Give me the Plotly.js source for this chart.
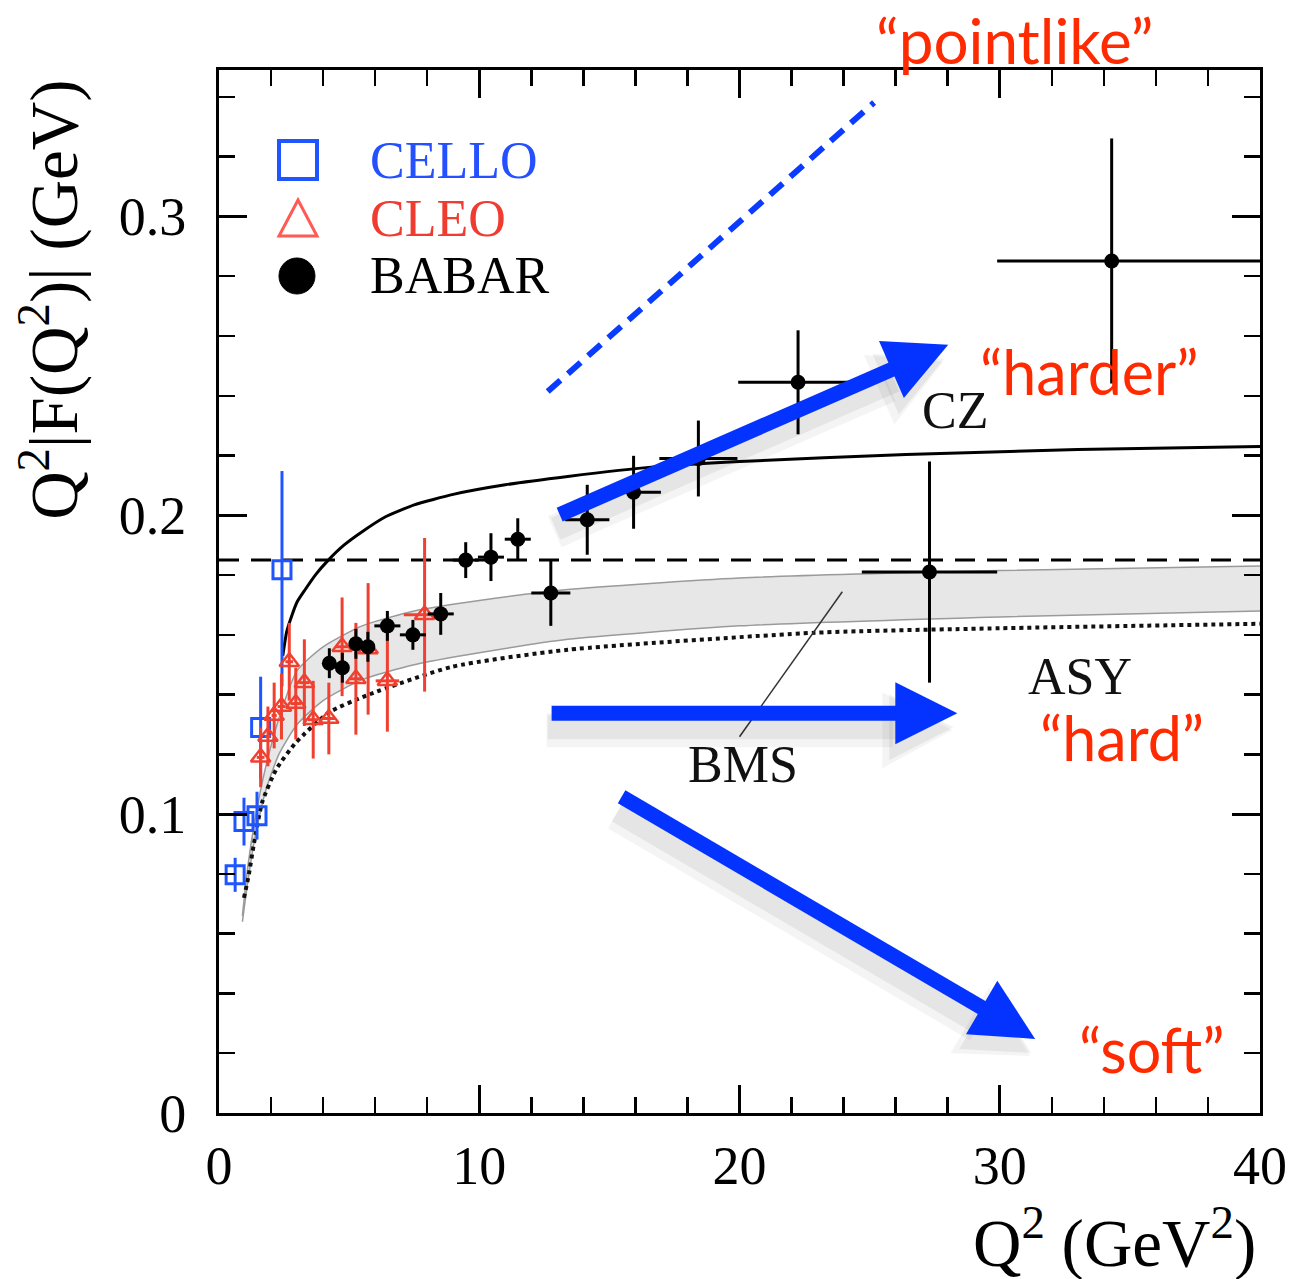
<!DOCTYPE html>
<html><head><meta charset="utf-8">
<script src="https://cdn.plot.ly/plotly-3.0.1.min.js"></script>
<style>html,body{margin:0;padding:0;background:#fff}</style>
</head><body><div id="chart" style="width:1293px;height:1279px"></div>
<script>
// ---- CELLO (open squares) ----
const cello_q2 = [0.62, 0.96, 1.46, 1.60, 2.42];
const cello_f = [0.0797, 0.0975, 0.0995, 0.1290, 0.1818];
const cello_err_plus = [0.0057, 0.0080, 0.0080, 0.0170, 0.0330];
const cello_err_minus = [0.0057, 0.0080, 0.0080, 0.0170, 0.0390];

// ---- CLEO (open triangles) ----
const cleo_q2 = [1.60, 1.88, 2.12, 2.40, 2.70, 2.95, 3.28, 3.62, 4.22, 4.73, 5.26, 5.73, 6.47, 7.90];
const cleo_f = [0.119, 0.126, 0.133, 0.136, 0.151, 0.137, 0.144, 0.1316, 0.132, 0.156, 0.1453, 0.1553, 0.1446, 0.1667];
const cleo_err = [0.010, 0.010, 0.011, 0.011, 0.013, 0.012, 0.0145, 0.013, 0.012, 0.0165, 0.0187, 0.022, 0.017, 0.0257];
const cleo_xerr = [0.15, 0.10, 0.10, 0.15, 0.15, 0.20, 0.20, 0.20, 0.25, 0.25, 0.25, 0.25, 0.45, 0.80];

// ---- BABAR (filled circles) ----
const babar_q2 = [4.24, 4.74, 5.26, 5.72, 6.47, 7.45, 8.52, 9.48, 10.45, 11.48, 12.75, 14.15, 15.93, 18.42, 22.25, 27.30, 34.30];
const babar_f = [0.1505, 0.1490, 0.1570, 0.1560, 0.1630, 0.1600, 0.1670, 0.1850, 0.1860, 0.1920, 0.1740, 0.1985, 0.2077, 0.2190, 0.2445, 0.1810, 0.2851];
const babar_err = [0.005, 0.005, 0.005, 0.005, 0.005, 0.005, 0.007, 0.006, 0.008, 0.007, 0.011, 0.0117, 0.0122, 0.0127, 0.0174, 0.037, 0.041];
const babar_xerr_plus = [0.25, 0.25, 0.25, 0.25, 0.5, 0.5, 0.5, 0.5, 0.5, 0.5, 0.75, 0.85, 1.05, 1.5, 2.3, 2.6, 5.7];
const babar_xerr_minus = [0.25, 0.25, 0.25, 0.25, 0.5, 0.5, 0.5, 0.5, 0.5, 0.5, 0.75, 0.85, 1.05, 1.5, 2.3, 2.6, 4.4];

// ---- theory curves ----
const cz_q2 = [2.45, 2.6, 2.8, 3.0, 3.3, 3.7, 4.2, 4.8, 5.5, 6.4, 7.5, 9.0, 11.0, 13.4, 16.7, 20.0, 26.4, 33.0, 40.0];
const cz_f = [0.153, 0.161, 0.1665, 0.171, 0.175, 0.180, 0.185, 0.190, 0.1945, 0.1995, 0.2035, 0.207, 0.2102, 0.213, 0.2162, 0.218, 0.2203, 0.222, 0.223];

const asy_q2 = [0.96, 1.15, 1.34, 1.66, 2.2, 2.96, 4.22, 5.76, 8.95, 13.4, 22.9, 30.0, 40.0];
const asy_f = [0.072, 0.080, 0.090, 0.104, 0.115, 0.124, 0.134, 0.140, 0.1493, 0.155, 0.1607, 0.1622, 0.1637];

const bms_q2 = [0.9, 1.1, 1.4, 1.8, 2.3, 3.0, 4.0, 5.5, 7.5, 10.0, 13.4, 20.0, 30.0, 40.0];
const bms_upper = [0.066, 0.082, 0.099, 0.116, 0.132, 0.148, 0.156, 0.163, 0.168, 0.1715, 0.1752, 0.179, 0.1815, 0.183];
const bms_lower = [0.064, 0.077, 0.093, 0.108, 0.120, 0.130, 0.138, 0.145, 0.150, 0.154, 0.1585, 0.163, 0.166, 0.168];

const limit_q2 = [0, 40];
const limit_f = [0.185, 0.185];

const pointlike_q2 = [12.63, 25.17];
const pointlike_f = [0.2414, 0.3381];

// BMS label connector
const bms_link_q2 = [20.0, 23.95];
const bms_link_f = [0.1259, 0.1744];

// ---- blue arrows (tail -> tip) ----
const arrow_tail_q2 = [13.09, 12.78, 15.47];
const arrow_tail_f = [0.2002, 0.1338, 0.1058];
const arrow_tip_q2 = [28.02, 28.37, 31.36];
const arrow_tip_f = [0.2571, 0.1338, 0.0248];

// ---- labels ----
const quote_labels = ['“harder”', '“hard”', '“soft”'];
const quote_q2 = [33.44, 34.7, 35.85];
const quote_f = [0.2481, 0.1255, 0.0211];
const top_label = '“pointlike”';
const model_labels = ['CZ', 'ASY', 'BMS'];
const model_q2 = [28.29, 33.09, 20.12];
const model_f = [0.235, 0.146, 0.1165];

const legend_names = ['CELLO', 'CLEO', 'BABAR'];
const legend_colors = ['#2450ff', '#f03c30', '#000000'];

const xticks = [0, 10, 20, 30, 40];
const xticklabels = ['0', '10', '20', '30', '40'];
const yticks = [0, 0.1, 0.2, 0.3];
const yticklabels = ['0', '0.1', '0.2', '0.3'];

const SERIF = '"Liberation Serif", "Times New Roman", serif';
const SANS = 'Lato, "Open Sans", sans-serif';
const BLUE = '#0433ff';

const W = 1293, H = 1279, ML = 219, MR = 33, MT = 70, MB = 166;
const XR = [0, 40], YR = [0, 0.349];
const SX = (W - ML - MR) / (XR[1] - XR[0]);
const SY = (H - MT - MB) / (YR[1] - YR[0]);

const traces = [
  {x: bms_q2, y: bms_lower, mode: 'lines', line: {color: '#9a9a9a', width: 1.5, shape: 'spline', smoothing: 0.6}, showlegend: false, hoverinfo: 'skip'},
  {x: bms_q2, y: bms_upper, mode: 'lines', fill: 'tonexty', fillcolor: '#e7e7e7', line: {color: '#9a9a9a', width: 1.5, shape: 'spline', smoothing: 0.6}, showlegend: false, name: 'BMS'},
  {x: limit_q2, y: limit_f, mode: 'lines', line: {color: '#000', width: 3, dash: '20px,12px'}, showlegend: false, name: 'asymptotic limit'},
  {x: asy_q2, y: asy_f, mode: 'lines', line: {color: '#111', width: 4, dash: 'dot', shape: 'spline', smoothing: 0.6}, showlegend: false, name: 'ASY'},
  {x: cz_q2, y: cz_f, mode: 'lines', line: {color: '#000', width: 3, shape: 'spline', smoothing: 0.5}, showlegend: false, name: 'CZ'},
  {x: bms_link_q2, y: bms_link_f, mode: 'lines', line: {color: '#333', width: 1.5}, showlegend: false, hoverinfo: 'skip'},
  {x: pointlike_q2, y: pointlike_f, mode: 'lines', line: {color: '#0a3cff', width: 6, dash: '17px,10px'}, showlegend: false, name: 'pointlike', cliponaxis: false},
  {x: cello_q2, y: cello_f, mode: 'markers', name: 'CELLO', showlegend: false,
   marker: {symbol: 'square-open', size: 18, color: '#1f55ff', line: {width: 3}},
   error_y: {type: 'data', symmetric: false, array: cello_err_plus, arrayminus: cello_err_minus, color: '#1f55ff', thickness: 3, width: 0}},
  {x: cleo_q2, y: cleo_f, mode: 'markers', name: 'CLEO', showlegend: false,
   marker: {symbol: 'triangle-up-open', size: 17, color: '#f04030', line: {width: 2.5}},
   error_y: {type: 'data', array: cleo_err, color: '#f04030', thickness: 3, width: 0},
   error_x: {type: 'data', array: cleo_xerr, color: '#f04030', thickness: 3, width: 0}},
  {x: babar_q2, y: babar_f, mode: 'markers', name: 'BABAR', showlegend: false,
   marker: {symbol: 'circle', size: 15, color: '#000'},
   error_y: {type: 'data', array: babar_err, color: '#000', thickness: 3, width: 0},
   error_x: {type: 'data', symmetric: false, array: babar_xerr_plus, arrayminus: babar_xerr_minus, color: '#000', thickness: 3, width: 0}}
];

const shapes = [];
// arrows built from tail/tip arrays: shaft line + triangular head (pixel-sized)
function addArrow(i, color, shaftW, L, HW, offPx, offPy) {
  const dxp = (arrow_tip_q2[i] - arrow_tail_q2[i]) * SX;
  const dyp = (arrow_tip_f[i] - arrow_tail_f[i]) * SY;
  const len = Math.hypot(dxp, dyp);
  const ux = dxp / len, uy = dyp / len;
  const ox = offPx / SX, oy = -offPy / SY;
  const tipX = arrow_tip_q2[i] + ox, tipY = arrow_tip_f[i] + oy;
  const endX = tipX - (L * 0.85) * ux / SX, endY = tipY - (L * 0.85) * uy / SY;
  shapes.push({type: 'line', xref: 'x', yref: 'y', x0: arrow_tail_q2[i] + ox, y0: arrow_tail_f[i] + oy, x1: endX, y1: endY,
    line: {color: color, width: shaftW}});
  const bx = -L * ux, by = -L * uy, px = -uy, py = ux;
  const p = (a, b) => a.toFixed(2) + ' ' + b.toFixed(2);
  shapes.push({type: 'path', xref: 'x', yref: 'y', xsizemode: 'pixel', ysizemode: 'pixel', xanchor: tipX, yanchor: tipY,
    path: 'M ' + p(0, 0) + ' L ' + p(bx + HW * px, by + HW * py) + ' L ' + p(bx - HW * px, by - HW * py) + ' Z',
    line: {width: 0}, fillcolor: color});
}
for (let i = 0; i < arrow_tip_q2.length; i++) {
  addArrow(i, 'rgba(0,0,0,0.045)', 34, 70, 38, -5, 17);
  addArrow(i, 'rgba(0,0,0,0.06)', 24, 64, 33, -4, 14);
}
for (let i = 0; i < arrow_tip_q2.length; i++) addArrow(i, BLUE, 15, 62, 31, 0, 0);

shapes.push({type: 'rect', xref: 'paper', yref: 'paper', xsizemode: 'pixel', ysizemode: 'pixel', xanchor: 0.0759, yanchor: 0.9137,
  x0: -19, x1: 19, y0: -19, y1: 19, line: {color: '#1f55ff', width: 4}, fillcolor: 'rgba(0,0,0,0)'});
shapes.push({type: 'path', xref: 'paper', yref: 'paper', xsizemode: 'pixel', ysizemode: 'pixel', xanchor: 0.0759, yanchor: 0.8581,
  path: 'M -19 -18 L 19 -18 L 0 18 Z', line: {color: '#ff5a55', width: 3}, fillcolor: 'rgba(0,0,0,0)'});
shapes.push({type: 'circle', xref: 'paper', yref: 'paper', xsizemode: 'pixel', ysizemode: 'pixel', xanchor: 0.0749, yanchor: 0.8025,
  x0: -18, x1: 18, y0: -18, y1: 18, line: {color: '#000', width: 1}, fillcolor: '#000'});

const annotations = [];
for (let i = 0; i < quote_labels.length; i++) {
  annotations.push({x: quote_q2[i], y: quote_f[i], xref: 'x', yref: 'y', text: quote_labels[i], showarrow: false,
    xanchor: 'center', yanchor: 'middle', font: {family: SANS, size: 61, color: '#ff2a00'}});
}
annotations.push({x: 0.7646, y: 1.029, xref: 'paper', yref: 'paper', text: top_label, showarrow: false,
  xanchor: 'center', yanchor: 'middle', font: {family: SANS, size: 62, color: '#ff2a00'}});
for (let i = 0; i < model_labels.length; i++) {
  annotations.push({x: model_q2[i], y: model_f[i], xref: 'x', yref: 'y', text: model_labels[i], showarrow: false,
    xanchor: 'center', yanchor: 'middle', font: {family: SERIF, size: 52, color: '#111'}});
}
const legend_y = [0.9137, 0.8581, 0.8025];
for (let i = 0; i < legend_names.length; i++) {
  annotations.push({x: 0.1431, y: legend_y[i], xref: 'paper', yref: 'paper', text: legend_names[i], showarrow: false,
    xanchor: 'left', yanchor: 'middle', font: {family: SERIF, size: 52, color: legend_colors[i]}});
}
annotations.push({x: -0.163, y: 0.78, xref: 'paper', yref: 'paper', textangle: -90, showarrow: false,
  text: 'Q<sup>2</sup>|F(Q<sup>2</sup>)| (GeV)', xanchor: 'center', yanchor: 'middle',
  font: {family: SERIF, size: 67, color: '#000'}});
annotations.push({x: 0.998, y: -0.12, xref: 'paper', yref: 'paper', showarrow: false,
  text: 'Q<sup>2</sup> (GeV<sup>2</sup>)', xanchor: 'right', yanchor: 'middle',
  font: {family: SERIF, size: 67, color: '#000'}});

const axisCommon = {
  showline: true, linecolor: '#000', linewidth: 3, mirror: 'allticks',
  ticks: 'inside', ticklen: 28, tickwidth: 3, tickcolor: '#000',
  showgrid: false, zeroline: false,
  tickfont: {family: SERIF, size: 54, color: '#000'}
};

const layout = {
  width: W, height: H,
  margin: {l: ML, r: MR, t: MT, b: MB},
  paper_bgcolor: '#fff', plot_bgcolor: '#fff',
  showlegend: false,
  xaxis: Object.assign({}, axisCommon, {range: XR, tickvals: xticks, ticktext: xticklabels,
    minor: {dtick: 2, ticks: 'inside', ticklen: 16, tickwidth: 2.5, tickcolor: '#000'}, ticklabelstandoff: 3}),
  yaxis: Object.assign({}, axisCommon, {range: YR, tickvals: yticks, ticktext: yticklabels,
    minor: {dtick: 0.02, ticks: 'inside', ticklen: 16, tickwidth: 2.5, tickcolor: '#000'}, ticklabelstandoff: 19}),
  annotations: annotations,
  shapes: shapes
};

Plotly.newPlot('chart', traces, layout, {displayModeBar: false, staticPlot: true});
</script></body></html>
